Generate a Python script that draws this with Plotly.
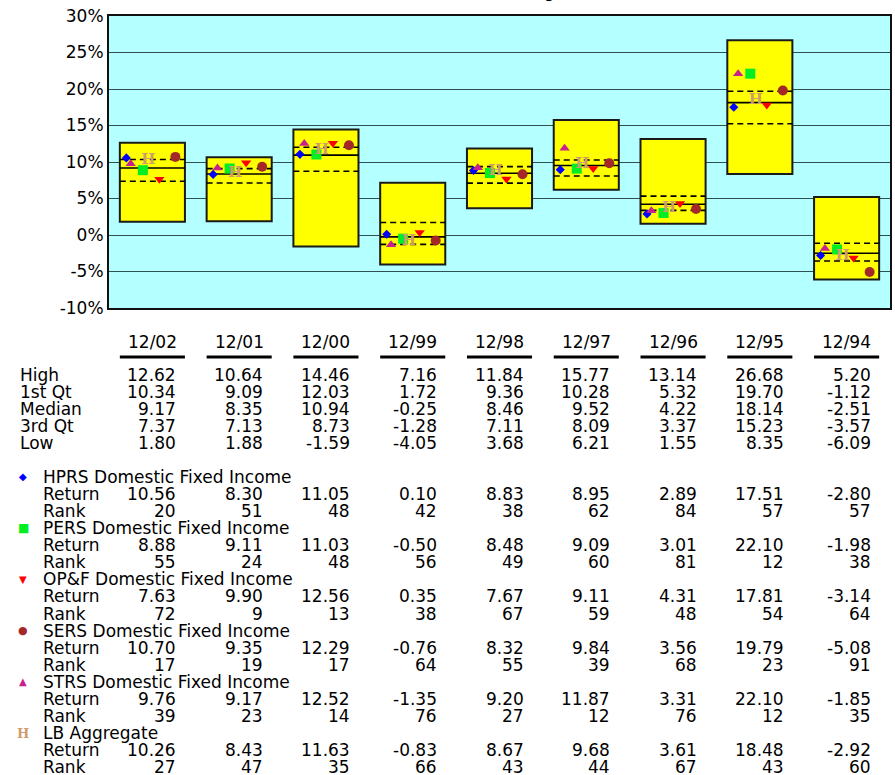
import plotly.graph_objects as go

categories = ["12/02", "12/01", "12/00", "12/99", "12/98", "12/97", "12/96", "12/95", "12/94"]
high = [12.62, 10.64, 14.46, 7.16, 11.84, 15.77, 13.14, 26.68, 5.20]
q1 = [10.34, 9.09, 12.03, 1.72, 9.36, 10.28, 5.32, 19.70, -1.12]
median = [9.17, 8.35, 10.94, -0.25, 8.46, 9.52, 4.22, 18.14, -2.51]
q3 = [7.37, 7.13, 8.73, -1.28, 7.11, 8.09, 3.37, 15.23, -3.57]
low = [1.80, 1.88, -1.59, -4.05, 3.68, 6.21, 1.55, 8.35, -6.09]

hprs_ret = [10.56, 8.30, 11.05, 0.10, 8.83, 8.95, 2.89, 17.51, -2.80]
hprs_rank = [20, 51, 48, 42, 38, 62, 84, 57, 57]
pers_ret = [8.88, 9.11, 11.03, -0.50, 8.48, 9.09, 3.01, 22.10, -1.98]
pers_rank = [55, 24, 48, 56, 49, 60, 81, 12, 38]
opf_ret = [7.63, 9.90, 12.56, 0.35, 7.67, 9.11, 4.31, 17.81, -3.14]
opf_rank = [72, 9, 13, 38, 67, 59, 48, 54, 64]
sers_ret = [10.70, 9.35, 12.29, -0.76, 8.32, 9.84, 3.56, 19.79, -5.08]
sers_rank = [17, 19, 17, 64, 55, 39, 68, 23, 91]
strs_ret = [9.76, 9.17, 12.52, -1.35, 9.20, 11.87, 3.31, 22.10, -1.85]
strs_rank = [39, 23, 14, 76, 27, 12, 76, 12, 35]
lb_ret = [10.26, 8.43, 11.63, -0.83, 8.67, 9.68, 3.61, 18.48, -2.92]
lb_rank = [27, 47, 35, 66, 43, 44, 67, 43, 60]

y_tickvals = [-10, -5, 0, 5, 10, 15, 20, 25, 30]
y_ticktext = ["-10%", "-5%", "0%", "5%", "10%", "15%", "20%", "25%", "30%"]

stat_labels = ["High", "1st Qt", "Median", "3rd Qt", "Low"]
stat_values = [high, q1, median, q3, low]

# name, returns, ranks, symbol, color, x offset within box, legend glyph, glyph size
series = [
    ("HPRS Domestic Fixed Income", hprs_ret, hprs_rank, "diamond", "#0000FF", -0.30, "\u25C6", 10),
    ("PERS Domestic Fixed Income", pers_ret, pers_rank, "square", "#00EE22", -0.11, "\u25A0", 12),
    ("OP&F Domestic Fixed Income", opf_ret, opf_rank, "triangle-down", "#FF0000", 0.08, "\u25BC", 10),
    ("SERS Domestic Fixed Income", sers_ret, sers_rank, "circle", "#A52828", 0.265, "\u25CF", 11),
    ("STRS Domestic Fixed Income", strs_ret, strs_rank, "triangle-up", "#C8208C", -0.25, "\u25B2", 10),
    ("LB Aggregate", lb_ret, lb_rank, "H", "#D09C6C", -0.046, "H", 13),
]

FONT = "DejaVu Sans"
FS = 17
W, H = 895, 775
ML, MR, MT, MB = 109, 3, 16, 467
PH = H - MT - MB
PW = W - ML - MR
BW = 0.75

def py(p):
    return (H - MB - p) / PH

def px(p):
    return (p - ML) / PW

idx = list(range(len(categories)))
fig = go.Figure()

fig.add_trace(go.Bar(
    x=idx, y=[h - l for h, l in zip(high, low)], base=low, width=BW,
    marker=dict(color="#FFFF00", line=dict(color="#1A1A1A", width=2)),
    hoverinfo="skip", showlegend=False,
))

def seg(vals):
    xs, ys = [], []
    for i, v in zip(idx, vals):
        xs += [i - BW / 2, i + BW / 2, None]
        ys += [v, v, None]
    return xs, ys

for vals, dash in [(q1, "6px,4px"), (median, "solid"), (q3, "6px,4px")]:
    xs, ys = seg(vals)
    fig.add_trace(go.Scatter(x=xs, y=ys, mode="lines",
                             line=dict(color="black", width=1.6, dash=dash),
                             hoverinfo="skip", showlegend=False))

for name, ret, rank, sym, col, off, glyph, gs in series:
    xs = [i + off for i in idx]
    if sym == "H":
        fig.add_trace(go.Scatter(x=xs, y=ret, mode="text", text=["H"] * len(idx),
                                 textfont=dict(family="DejaVu Serif", size=15, color=col, weight="bold"),
                                 textposition="middle center", name=name, showlegend=False))
    else:
        size = {"diamond": 7, "square": 10, "triangle-down": 9, "circle": 10, "triangle-up": 9}[sym]
        fig.add_trace(go.Scatter(x=xs, y=ret, mode="markers",
                                 marker=dict(symbol=sym, size=size, color=col, line=dict(width=0)),
                                 name=name, showlegend=False))

ann = []
shapes = []
# title (mostly above the page, only its descender shows)
ann.append(dict(text="Ranking", xref="paper", yref="paper", x=px(558), y=py(3),
                xanchor="right", yanchor="bottom", showarrow=False,
                font=dict(family=FONT, size=FS, color="black")))

# column headers + underlines
for i, c in zip(idx, categories):
    ann.append(dict(text=c, xref="x", yref="paper", x=i, y=py(342), xanchor="center",
                    yanchor="middle", showarrow=False, font=dict(family=FONT, size=FS, color="black")))
    shapes.append(dict(type="line", xref="x", yref="paper", x0=i - BW / 2, x1=i + BW / 2,
                       y0=py(357), y1=py(357), line=dict(color="black", width=3)))

ROW0 = 375
STEP = 17.1
NOFF = 0.30

def row_text(label, lx, values, ypix, fmt):
    ann.append(dict(text=label, xref="paper", yref="paper", x=px(lx), y=py(ypix), xanchor="left",
                    yanchor="middle", showarrow=False, font=dict(family=FONT, size=FS, color="black")))
    if values is not None:
        for i, v in zip(idx, values):
            ann.append(dict(text=fmt(v), xref="x", yref="paper", x=i + NOFF, y=py(ypix),
                            xanchor="right", yanchor="middle", showarrow=False,
                            font=dict(family=FONT, size=FS, color="black")))

for k, (lab, vals) in enumerate(zip(stat_labels, stat_values)):
    row_text(lab, 18, vals, ROW0 + k * STEP, lambda v: f"{v:.2f}")

LROW0 = 476.7
for s, (name, ret, rank, sym, col, off, glyph, gs) in enumerate(series):
    yb = LROW0 + s * 3 * STEP
    gfont = dict(family="DejaVu Serif" if glyph == "H" else FONT, size=gs, color=col,
                 weight="bold" if glyph == "H" else "normal")
    ann.append(dict(text=glyph, xref="paper", yref="paper", x=px(23), y=py(yb), xanchor="center",
                    yanchor="middle", showarrow=False, font=gfont))
    row_text(name, 41, None, yb, None)
    row_text("Return", 41, ret, yb + STEP, lambda v: f"{v:.2f}")
    row_text("Rank", 41, rank, yb + 2 * STEP, lambda v: f"{v:d}")

fig.update_layout(
    width=W, height=H,
    margin=dict(l=ML, r=MR, t=MT, b=MB, pad=0),
    paper_bgcolor="white", plot_bgcolor="#B4FFFF",
    font=dict(family=FONT, size=FS, color="black"),
    showlegend=False,
    annotations=ann, shapes=shapes,
    xaxis=dict(range=[-0.5, len(categories) - 0.5], showticklabels=False, showgrid=False,
               zeroline=False, showline=True, mirror=True, linecolor="#111111", linewidth=2,
               ticks="", fixedrange=True),
    yaxis=dict(range=[-10, 30], tickvals=y_tickvals, ticktext=y_ticktext, showgrid=True,
               gridcolor="#2E5050", gridwidth=1, zeroline=False, showline=True, mirror=True,
               linecolor="#111111", linewidth=2, ticks="",
               tickfont=dict(family=FONT, size=FS, color="black"), fixedrange=True),
)

fig.write_html("out.html")
